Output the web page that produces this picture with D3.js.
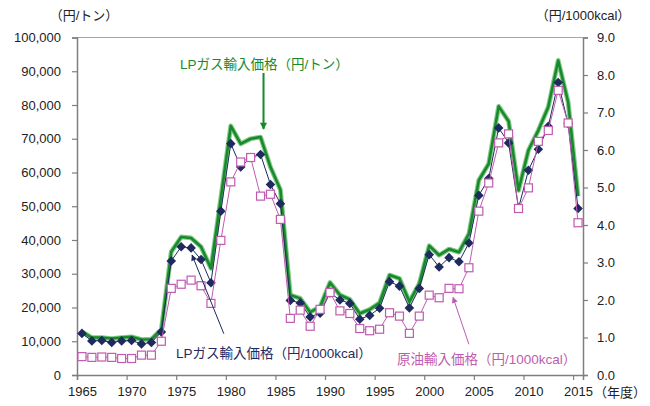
<!DOCTYPE html>
<html><head><meta charset="utf-8">
<script src="https://cdn.jsdelivr.net/npm/d3@7"></script>
<style>
html,body{margin:0;padding:0;background:#fff;}
svg{display:block;font-family:"Liberation Sans",Arial,"Noto Sans CJK JP",sans-serif;}
</style></head><body>
<svg id="c" width="650" height="406"></svg>
<script>
const years = d3.range(1965, 2016);
const lpgYenPerTon = [12800,11100,11100,10800,11100,11300,10500,10600,13500,36500,
 40900,40600,38000,31600,52500,73800,68500,70000,70500,61600,
 54900,23700,22700,18600,20200,27400,23700,22400,18200,19400,
 21400,29600,28600,21700,27100,38300,35500,37300,36400,41800,
 57700,62600,79600,75200,54700,66600,72500,79400,93200,80900,53000];
const lpgYenPerKcal = [1.11,0.91,0.92,0.87,0.91,0.92,0.83,0.87,1.15,3.04,
 3.42,3.39,3.08,2.46,4.37,6.17,5.55,5.80,5.88,5.08,
 4.57,1.99,1.92,1.55,1.65,2.19,2.00,1.91,1.49,1.59,
 1.78,2.49,2.37,1.79,2.31,3.21,2.88,3.13,3.02,3.52,
 4.79,5.24,6.59,6.19,4.45,5.46,6.02,6.63,7.80,6.70,4.44];
const crudeYenPerKcal = [0.49,0.47,0.48,0.47,0.44,0.44,0.53,0.53,0.90,2.31,
 2.42,2.53,2.38,1.91,3.59,5.15,5.68,5.80,4.77,4.82,
 4.15,1.51,1.73,1.30,1.75,2.20,1.71,1.64,1.24,1.18,
 1.22,1.66,1.57,1.11,1.57,2.13,2.06,2.31,2.30,2.86,
 4.37,5.12,6.19,6.43,4.44,4.99,6.23,6.52,7.59,6.72,4.06];
const xTickYears = [1965,1970,1975,1980,1985,1990,1995,2000,2005,2010,2015];
const leftTicks = d3.range(0, 100001, 10000);
const rightTicks = d3.range(0, 9.01, 1);

const svg = d3.select("#c");
const L = 77, R = 583, T = 37.5, B = 375;
const x = d3.scaleLinear().domain([1964.5, 2015.5]).range([L, R]);
const yL = d3.scaleLinear().domain([0, 100000]).range([B, T]);
const yR = d3.scaleLinear().domain([0, 9]).range([B, T]);

const axisCol = "#7f7f7f", txtCol = "#222";
const GREEN = "#178a2b", NAVY = "#1f2a5e", PINK = "#bf5bb0";

svg.append("line").attr("x1",L).attr("x2",R).attr("y1",T).attr("y2",T)
  .attr("stroke","#a6a6a6").attr("stroke-width",1);

const gl = svg.append("g").attr("transform",`translate(${L},0)`)
  .call(d3.axisLeft(yL).tickValues(leftTicks).tickFormat(d3.format(",")).tickSize(5).tickPadding(11));
const gr = svg.append("g").attr("transform",`translate(${R},0)`)
  .call(d3.axisRight(yR).tickValues(rightTicks).tickFormat(d3.format(".1f")).tickSize(5).tickPadding(9));
const boundaryTicks = xTickYears.map(v => v - 0.5);
const gb = svg.append("g").attr("transform",`translate(0,${B})`)
  .call(d3.axisBottom(x).tickValues(boundaryTicks).tickFormat("").tickSize(5));
const gbl = svg.append("g").attr("transform",`translate(0,${B})`)
  .call(d3.axisBottom(x).tickValues(xTickYears).tickFormat(d3.format("d")).tickSize(0).tickPadding(12));
gbl.select(".domain").remove();

[gl,gr,gb,gbl].forEach(g=>{
  g.selectAll(".domain").attr("stroke",axisCol).attr("stroke-width",1.5);
  g.selectAll(".tick line").attr("stroke",axisCol).attr("stroke-width",1.2);
  g.selectAll("text").attr("fill",txtCol).attr("font-size",13)
    .attr("font-family",'"Liberation Sans",Arial,sans-serif');
});

svg.append("text").attr("x",84).attr("y",20).attr("text-anchor","middle")
  .attr("font-size",13).attr("fill",txtCol).text("（円/トン）");
svg.append("text").attr("x",583).attr("y",20).attr("text-anchor","middle")
  .attr("font-size",13).attr("fill",txtCol).text("（円/1000kcal）");
svg.append("text").attr("x",620).attr("y",397).attr("text-anchor","middle")
  .attr("font-size",13).attr("fill",txtCol).text("（年度）");

const lineL = d3.line().x((d,i)=>x(years[i])).y(d=>yL(d));
const lineR = d3.line().x((d,i)=>x(years[i])).y(d=>yR(d));
svg.append("path").datum(lpgYenPerTon).attr("d",lineL).attr("fill","none")
  .attr("stroke","#86c98a").attr("stroke-width",4.8).attr("stroke-linejoin","round");
svg.append("path").datum(lpgYenPerTon).attr("d",lineL).attr("fill","none")
  .attr("stroke",GREEN).attr("stroke-width",2.6).attr("stroke-linejoin","round");

svg.append("path").datum(lpgYenPerKcal).attr("d",lineR).attr("fill","none")
  .attr("stroke",NAVY).attr("stroke-width",1);
svg.append("g").selectAll("path").data(lpgYenPerKcal).join("path")
  .attr("transform",(d,i)=>`translate(${x(years[i])},${yR(d)})`)
  .attr("d","M0,-4.8L4.8,0L0,4.8L-4.8,0Z").attr("fill",NAVY);

svg.append("path").datum(crudeYenPerKcal).attr("d",lineR).attr("fill","none")
  .attr("stroke",PINK).attr("stroke-width",1);
svg.append("g").selectAll("rect").data(crudeYenPerKcal).join("rect")
  .attr("x",(d,i)=>x(years[i])-4).attr("y",d=>yR(d)-4)
  .attr("width",8).attr("height",8).attr("fill","#fff")
  .attr("stroke",PINK).attr("stroke-width",1.2);

const defs = svg.append("defs");
function marker(id,col,w,h){
  defs.append("marker").attr("id",id).attr("viewBox","0 0 10 10").attr("refX",9).attr("refY",5)
    .attr("markerWidth",w).attr("markerHeight",h).attr("orient","auto").attr("markerUnits","userSpaceOnUse")
    .append("path").attr("d","M0,0L10,5L0,10Z").attr("fill",col);
}
marker("mg",GREEN,8,7); marker("mn",NAVY,8,6); marker("mp",PINK,8,6);

svg.append("text").attr("x",180).attr("y",69).attr("font-size",13.5).attr("fill",GREEN)
  .text("LPガス輸入価格（円/トン）");
svg.append("line").attr("x1",x(1983.3)).attr("y1",yL(89500)).attr("x2",x(1983.3)).attr("y2",yL(72900))
  .attr("stroke",GREEN).attr("stroke-width",2).attr("marker-end","url(#mg)");

svg.append("text").attr("x",176).attr("y",358).attr("font-size",13.5).attr("fill",NAVY)
  .text("LPガス輸入価格（円/1000kcal）");
svg.append("line").attr("x1",x(1979.3)).attr("y1",yR(1.1)).attr("x2",x(1976.1)).attr("y2",yR(3.2))
  .attr("stroke",NAVY).attr("stroke-width",1).attr("marker-end","url(#mn)");

svg.append("text").attr("x",397).attr("y",364).attr("font-size",13.5).attr("fill",PINK)
  .text("原油輸入価格（円/1000kcal）");
svg.append("line").attr("x1",x(2004.0)).attr("y1",yR(0.82)).attr("x2",x(2002.4)).attr("y2",yR(2.07))
  .attr("stroke",PINK).attr("stroke-width",1).attr("marker-end","url(#mp)");
</script>
</body></html>
